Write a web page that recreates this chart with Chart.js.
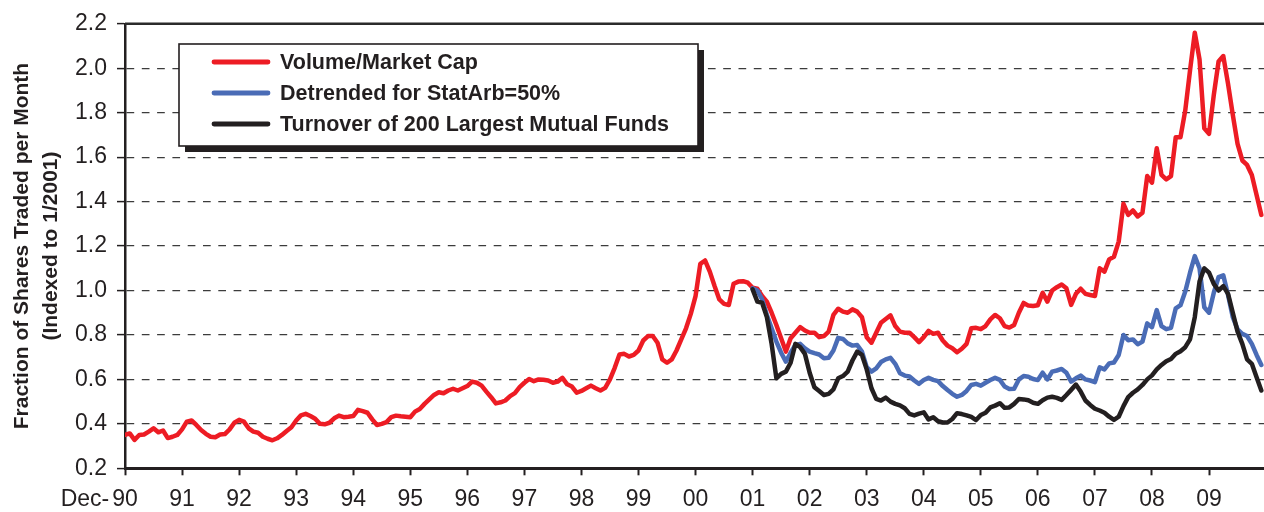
<!DOCTYPE html>
<html>
<head>
<meta charset="utf-8">
<script src="https://cdn.jsdelivr.net/npm/chart.js@4.4.1/dist/chart.umd.min.js"></script>
<style>
html,body{margin:0;padding:0;background:#ffffff;overflow:hidden}
#wrap{width:1264px;height:512px;position:relative}
</style>
</head>
<body>
<div id="wrap"><canvas id="c" width="1264" height="512"></canvas></div>
<script>
// ---- data (monthly, index 0 = first tick "Dec-90") ----
const xTickLabels = ["Dec-90","91","92","93","94","95","96","97","98","99","00","01","02","03","04","05","06","07","08","09"];
const monthsPerTick = 12;
const seriesLabels = ["Volume/Market Cap","Detrended for StatArb=50%","Turnover of 200 Largest Mutual Funds"];

const volumeMarketCap = [
  0.35, 0.357, 0.328, 0.35, 0.352, 0.365, 0.38, 0.362, 0.37, 0.336, 0.342, 0.35,
  0.375, 0.41, 0.415, 0.395, 0.372, 0.355, 0.342, 0.34, 0.352, 0.354, 0.375, 0.405,
  0.418, 0.41, 0.38, 0.365, 0.36, 0.342, 0.333, 0.326, 0.335, 0.35, 0.368, 0.385,
  0.415, 0.438, 0.445, 0.435, 0.423, 0.4, 0.398, 0.405, 0.425, 0.437, 0.43, 0.432,
  0.435, 0.463, 0.457, 0.45, 0.42, 0.395, 0.4, 0.408, 0.43, 0.437, 0.434, 0.432,
  0.43, 0.455, 0.467, 0.49, 0.51, 0.53, 0.542, 0.538, 0.55, 0.558, 0.55, 0.56,
  0.57, 0.59, 0.585, 0.572, 0.545, 0.52, 0.492, 0.497, 0.505, 0.525, 0.538, 0.565,
  0.585, 0.602, 0.592, 0.6, 0.598, 0.595, 0.585, 0.59, 0.607, 0.578, 0.568, 0.54,
  0.548, 0.56, 0.572, 0.56, 0.55, 0.562, 0.6, 0.652, 0.712, 0.715, 0.703, 0.71,
  0.73, 0.775, 0.795, 0.795, 0.765, 0.69, 0.675, 0.69, 0.73, 0.78, 0.83, 0.895,
  0.975, 1.12, 1.135, 1.085, 1.02, 0.96, 0.94, 0.935, 1.03, 1.04, 1.042, 1.035,
  1.012, 1.008, 0.975, 0.95, 0.9, 0.845, 0.785, 0.725, 0.785, 0.81, 0.835, 0.82,
  0.81, 0.81, 0.79, 0.795, 0.815, 0.89, 0.918, 0.905, 0.9, 0.915, 0.905, 0.88,
  0.79, 0.765, 0.81, 0.855, 0.872, 0.888, 0.84, 0.815, 0.81, 0.81, 0.79, 0.768,
  0.79, 0.818, 0.805, 0.81, 0.775, 0.752, 0.74, 0.722, 0.738, 0.76, 0.83, 0.832,
  0.826, 0.84, 0.87, 0.89, 0.875, 0.84, 0.833, 0.845, 0.9, 0.944, 0.932, 0.93,
  0.934, 0.99, 0.95, 1.0, 1.015, 1.027, 1.01, 0.935, 0.985, 1.008, 0.985, 0.98,
  0.975, 1.1, 1.085, 1.14, 1.152, 1.22, 1.39, 1.34, 1.36, 1.333, 1.35, 1.515,
  1.485, 1.64, 1.52, 1.5, 1.515, 1.69, 1.69, 1.81, 1.99, 2.16, 2.04, 1.73,
  1.705, 1.88, 2.03, 2.055, 1.93, 1.79, 1.66, 1.585, 1.565, 1.52, 1.43, 1.34
];

// the two shorter series begin at month index 132 (tick "01")
const shortSeriesStart = 132;
const detrendedStatArb = [
  1.01, 1.0, 0.96, 0.89, 0.83, 0.77, 0.72, 0.68, 0.72, 0.755, 0.76, 0.74,
  0.725, 0.718, 0.712, 0.695, 0.697, 0.73, 0.787, 0.782, 0.762, 0.752, 0.755, 0.725,
  0.655, 0.635, 0.65, 0.678, 0.69, 0.697, 0.67, 0.628, 0.617, 0.613, 0.595, 0.58,
  0.597, 0.607, 0.598, 0.592, 0.57, 0.552, 0.535, 0.522, 0.53, 0.548, 0.575, 0.58,
  0.572, 0.585, 0.597, 0.607, 0.598, 0.568, 0.557, 0.558, 0.6, 0.615, 0.612, 0.602,
  0.597, 0.63, 0.6, 0.635, 0.64, 0.647, 0.63, 0.59, 0.605, 0.617, 0.6, 0.595,
  0.588, 0.654, 0.645, 0.672, 0.676, 0.71, 0.8, 0.776, 0.78, 0.758, 0.77, 0.852,
  0.835, 0.912, 0.84, 0.826, 0.832, 0.92, 0.934, 0.995, 1.08, 1.155, 1.1, 0.925,
  0.9, 0.99, 1.06, 1.068, 0.98, 0.88, 0.825, 0.805, 0.795, 0.76, 0.71, 0.665
];
const mutualFundTurnover = [
  1.005, 0.95, 0.945, 0.88, 0.76, 0.605, 0.625, 0.635, 0.675, 0.76, 0.745, 0.715,
  0.63, 0.565, 0.548, 0.53, 0.535, 0.555, 0.605, 0.615, 0.635, 0.685, 0.725, 0.71,
  0.645, 0.56, 0.512, 0.505, 0.518, 0.5, 0.49, 0.483, 0.47, 0.445, 0.438, 0.446,
  0.452, 0.42, 0.43, 0.412, 0.406, 0.406, 0.422, 0.448, 0.444, 0.438, 0.431, 0.417,
  0.44, 0.45, 0.474, 0.482, 0.493, 0.472, 0.474, 0.49, 0.512, 0.51, 0.506, 0.495,
  0.49, 0.506, 0.518, 0.522, 0.517, 0.508, 0.53, 0.553, 0.577, 0.545, 0.505, 0.485,
  0.468, 0.46, 0.45, 0.432, 0.418, 0.432, 0.48, 0.52, 0.54, 0.555, 0.575, 0.6,
  0.618, 0.645, 0.665, 0.682, 0.692, 0.715, 0.727, 0.745, 0.78, 0.88, 1.04, 1.1,
  1.08, 1.03, 1.0, 1.02, 0.985, 0.9, 0.815, 0.76, 0.69, 0.67, 0.61, 0.55
];

const yTitle = ["Fraction of Shares Traded per Month", "(Indexed to 1/2001)"];

// ---- styling ----
const FONT = '"Liberation Sans", Arial, Helvetica, sans-serif';
const INK = '#231f20';
const COLORS = ['#ed1c24', '#4a6cb6', '#231f20'];

const toPoints = (arr, start) => arr.map((v, k) => ({ x: start + k, y: v }));

const decor = {
  id: 'decor',
  afterDraw(chart) {
    const { ctx, chartArea, scales } = chart;
    ctx.save();
    // top frame line
    ctx.strokeStyle = '#2b2b2b';
    ctx.lineWidth = 2.5;
    ctx.beginPath();
    ctx.moveTo(chartArea.left, chartArea.top);
    ctx.lineTo(chartArea.right, chartArea.top);
    ctx.stroke();

    // "Dec-" prefix of the first x tick label
    const xs = scales.x;
    const tf = xs.options.ticks.font;
    ctx.font = `${tf.size}px ${FONT}`;
    ctx.fillStyle = INK;
    ctx.textAlign = 'right';
    ctx.textBaseline = 'middle';
    const first = xTickLabels[0];
    const prefix = first.slice(0, first.indexOf('-') + 1);
    const rest = first.slice(prefix.length);
    const x0 = xs.getPixelForValue(0) - ctx.measureText(rest).width / 2 - 3;
    const yMid = xs.top + xs.options.grid.tickLength + xs.options.ticks.padding + tf.size * 1.2 / 2;
    ctx.fillText(prefix, x0, yMid);

    // legend box with drop shadow
    const bx = 179, by = 44, bw = 519, bh = 102, sh = 6;
    ctx.fillStyle = INK;
    ctx.fillRect(bx + sh, by + sh, bw, bh);
    ctx.fillStyle = '#ffffff';
    ctx.fillRect(bx, by, bw, bh);
    ctx.strokeStyle = INK;
    ctx.lineWidth = 1.6;
    ctx.strokeRect(bx, by, bw, bh);
    ctx.font = `bold 21.5px ${FONT}`;
    ctx.textAlign = 'left';
    ctx.textBaseline = 'middle';
    const rows = [62, 93, 124];
    chart.data.datasets.forEach((ds, i) => {
      const y = rows[i];
      ctx.strokeStyle = ds.borderColor;
      ctx.lineWidth = 4.8;
      ctx.lineCap = 'round';
      ctx.beginPath();
      ctx.moveTo(214, y);
      ctx.lineTo(268, y);
      ctx.stroke();
      ctx.fillStyle = INK;
      ctx.fillText(ds.label, 280, y + 1);
    });
    ctx.restore();
  }
};

new Chart(document.getElementById('c'), {
  type: 'line',
  data: {
    datasets: [
      { label: seriesLabels[0], data: toPoints(volumeMarketCap, 0), borderColor: COLORS[0], order: 3 },
      { label: seriesLabels[1], data: toPoints(detrendedStatArb, shortSeriesStart), borderColor: COLORS[1], order: 2 },
      { label: seriesLabels[2], data: toPoints(mutualFundTurnover, shortSeriesStart), borderColor: COLORS[2], order: 1 }
    ]
  },
  options: {
    responsive: false,
    animation: false,
    layout: { padding: { top: 20.7, right: 0, bottom: 0, left: 0 } },
    elements: {
      point: { radius: 0, hoverRadius: 0 },
      line: { borderWidth: 4.5, tension: 0, fill: false, borderJoinStyle: 'round', borderCapStyle: 'round' }
    },
    plugins: { legend: { display: false }, tooltip: { enabled: false } },
    scales: {
      x: {
        type: 'linear',
        min: 0,
        max: 239.56,
        afterBuildTicks: s => { s.ticks = xTickLabels.map((_, k) => ({ value: k * monthsPerTick })); },
        afterFit: s => { s.height = 43.7; },
        grid: { drawOnChartArea: false, drawTicks: true, tickLength: 7, tickWidth: 2, tickColor: INK },
        border: { display: true, color: INK, width: 3 },
        ticks: {
          autoSkip: false, maxRotation: 0, minRotation: 0, padding: 11, color: INK,
          font: { family: FONT, size: 23 },
          callback: v => {
            const l = xTickLabels[Math.round(v / monthsPerTick)];
            return l ? l.slice(l.indexOf('-') + 1) : '';
          }
        }
      },
      y: {
        min: 0.2,
        max: 2.2,
        afterFit: s => { s.width = 125; },
        ticks: {
          stepSize: 0.2, padding: 10, color: INK,
          font: { family: FONT, size: 23 },
          callback: v => Number(v).toFixed(1)
        },
        grid: {
          color: c => (c.tick && (c.tick.value < 0.25 || c.tick.value > 2.15)) ? 'rgba(0,0,0,0)' : '#3c3c3c',
          lineWidth: 1.2,
          tickLength: 8, tickWidth: 1.5, tickColor: INK, tickBorderDash: []
        },
        border: { display: true, color: INK, width: 2.5, dash: [7.7, 7.6] },
        title: {
          display: true, text: yTitle, color: INK,
          font: { family: FONT, size: 21, weight: 'bold', lineHeight: 1.37 },
          padding: { top: 8, bottom: 0 }
        }
      }
    }
  },
  plugins: [decor]
});
</script>
</body>
</html>
